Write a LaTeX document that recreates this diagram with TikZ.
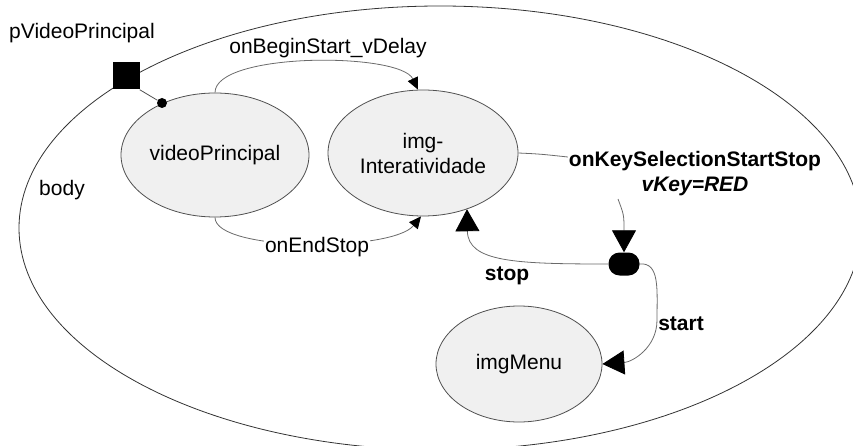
\documentclass[tikz,border=0pt]{standalone}
\usepackage{fontspec}
\setmainfont{Liberation Sans}
\usetikzlibrary{arrows.meta,shapes.geometric}
\definecolor{edgegray}{HTML}{505050}
\definecolor{linegray}{HTML}{6A6A6A}
\definecolor{statefill}{HTML}{F0F0F0}
\tikzset{
  lbl/.style={font=\fontsize{21}{25}\selectfont, inner sep=1pt, text=black},
  blbl/.style={lbl, font=\fontsize{21}{25}\selectfont\bfseries},
  statenode/.style={ellipse, draw=edgegray, fill=statefill, line width=0.8pt, inner sep=0pt,
    font=\fontsize{21}{25}\selectfont, align=center},
  conn/.style={draw=linegray, line width=0.8pt},
  smallarrow/.style={conn, -{Triangle[length=12pt,width=11pt,color=black]}},
  bigarrow/.style={conn, -{Triangle[length=22pt,width=24pt,color=black]}},
}
\begin{document}
\begin{tikzpicture}[x=1pt,y=-1pt]
\useasboundingbox (0,0) rectangle (853,446);
\begin{scope}
\clip (0,0) rectangle (853,446);
\node[ellipse, draw=black!80, line width=0.8pt, minimum width=842pt, minimum height=444pt, inner sep=0pt] (body) at (440,228) {};
\end{scope}
\node[lbl] (bodylbl) at (62,190) {body};

% states
\node[statenode, minimum width=188pt, minimum height=124pt] (vp) at (215,155) {videoPrincipal};
\node[statenode, minimum width=190pt, minimum height=126pt] (img) at (423,153) {img-\\Interatividade};
\node[statenode, minimum width=166pt, minimum height=116pt] (menu) at (519,364) {imgMenu};

% port
\node[fill=black, minimum size=27pt, inner sep=0pt] (pvp) at (126,76) {};
\node[lbl] (pvplbl) at (82,33) {pVideoPrincipal};
\node[circle, fill=black, minimum size=10pt, inner sep=0pt] (dot) at (162,103) {};
\draw[draw=edgegray, line width=0.8pt] (pvp.south east) -- (dot);

% switch blob
\node[rectangle, rounded corners=11pt, fill=black, minimum width=31pt, minimum height=23pt, inner sep=0pt] (blob) at (624,264) {};

% onBeginStart_vDelay
\draw[smallarrow] (vp.north) .. controls (215,52) and (400,52) .. ([xshift=-5pt]img.north);
\node[lbl] (obs) at (328,48) {onBeginStart\_vDelay};

% onEndStop
\draw[smallarrow] (vp.south) .. controls (215,252) and (392,252) .. ([xshift=-2pt]img.south);
\node[lbl, fill=white] (oes) at (317,247) {onEndStop};

% onKeySelectionStartStop
\node[blbl, align=center] (key) at (695,174) {onKeySelectionStartStop\\\textit{vKey=RED}};
\draw[conn] (img.east) .. controls (540,154) .. (key.north west |- 0,157);
\coordinate (k1) at (618,199);
\draw[bigarrow] (k1) .. controls (624,215) .. (blob.north);

% stop
\draw[bigarrow] (blob.west) .. controls (515,264) and (468,262) .. (img.-52);
\node[blbl] (stoplbl) at (507,276) {stop};

% start
\draw[bigarrow] (blob.east) .. controls (660,262) and (657,290) .. (657,320)
  .. controls (657,348) and (632,362) .. (menu.east);
\node[blbl] (startlbl) at (681,324) {start};
\end{tikzpicture}
\end{document}
